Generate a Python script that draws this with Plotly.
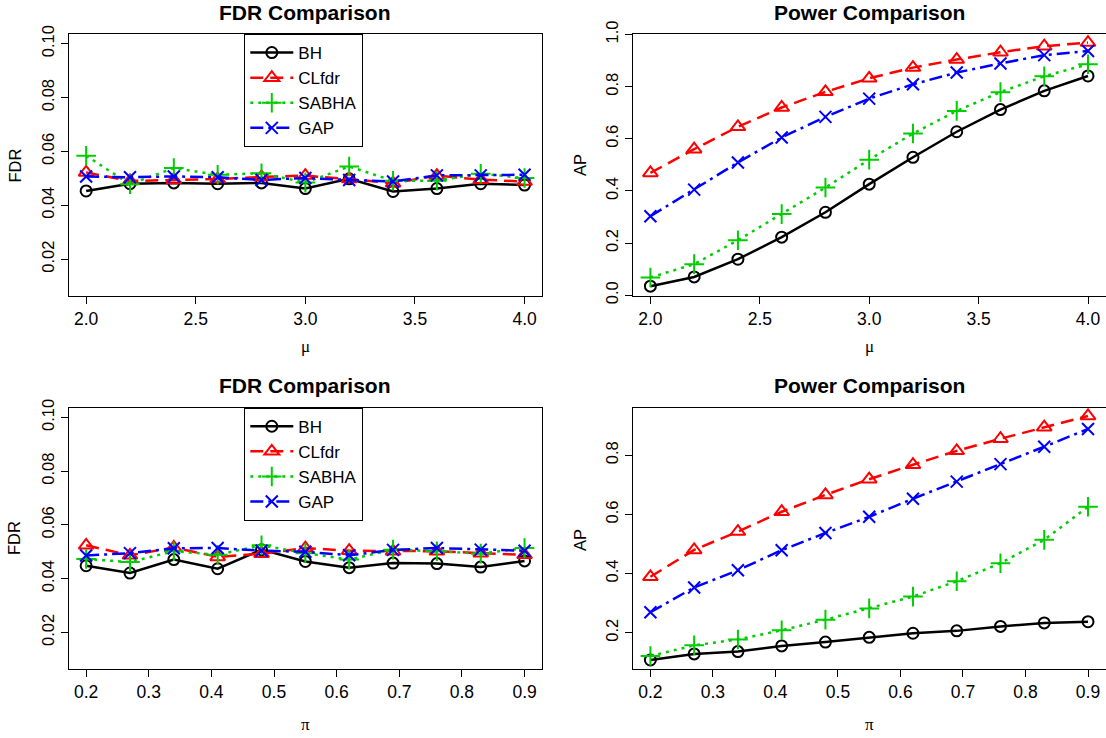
import plotly.graph_objects as go
from plotly.subplots import make_subplots

W, H = 1106, 738

# x values
mu = [2.0, 2.2, 2.4, 2.6, 2.8, 3.0, 3.2, 3.4, 3.6, 3.8, 4.0]
pi_vals = [0.2, 0.27, 0.34, 0.41, 0.48, 0.55, 0.62, 0.69, 0.76, 0.83, 0.9]

# FDR vs mu
fdr_mu_bh = [0.0453, 0.0480, 0.0483, 0.0480, 0.0483, 0.0462, 0.0498, 0.0451, 0.0462, 0.0480, 0.0475]
fdr_mu_clfdr = [0.0522, 0.0490, 0.0494, 0.0497, 0.0505, 0.0510, 0.0497, 0.0482, 0.0510, 0.0495, 0.0488]
fdr_mu_sabha = [0.0584, 0.0478, 0.0538, 0.0513, 0.0519, 0.0484, 0.0544, 0.0491, 0.0491, 0.0517, 0.0501]
fdr_mu_gap = [0.0507, 0.0504, 0.0507, 0.0504, 0.0494, 0.0501, 0.0494, 0.0488, 0.0511, 0.0511, 0.0513]

# AP vs mu
ap_mu_bh = [0.0345, 0.070, 0.138, 0.2225, 0.318, 0.426, 0.529, 0.627, 0.712, 0.784, 0.841]
ap_mu_clfdr = [0.469, 0.560, 0.646, 0.720, 0.780, 0.832, 0.873, 0.904, 0.932, 0.955, 0.969]
ap_mu_sabha = [0.068, 0.119, 0.211, 0.311, 0.413, 0.520, 0.620, 0.707, 0.779, 0.840, 0.886]
ap_mu_gap = [0.303, 0.405, 0.509, 0.605, 0.684, 0.754, 0.809, 0.854, 0.889, 0.921, 0.937]

# FDR vs pi
fdr_pi_bh = [0.0448, 0.0421, 0.0471, 0.0437, 0.0508, 0.0464, 0.0441, 0.0458, 0.0456, 0.0443, 0.0466]
fdr_pi_clfdr = [0.0524, 0.0487, 0.0516, 0.0481, 0.0493, 0.0514, 0.0504, 0.0502, 0.0502, 0.0495, 0.0489]
fdr_pi_sabha = [0.0473, 0.0462, 0.0502, 0.0489, 0.0524, 0.0495, 0.0471, 0.0508, 0.0502, 0.0493, 0.0514]
fdr_pi_gap = [0.0486, 0.0495, 0.0513, 0.0514, 0.0504, 0.0500, 0.0487, 0.0507, 0.0514, 0.0508, 0.0504]

# AP vs pi
ap_pi_bh = [0.1075, 0.128, 0.136, 0.155, 0.168, 0.184, 0.198, 0.206, 0.221, 0.233, 0.237]
ap_pi_clfdr = [0.389, 0.480, 0.542, 0.609, 0.666, 0.719, 0.768, 0.815, 0.856, 0.895, 0.933]
ap_pi_sabha = [0.121, 0.157, 0.177, 0.208, 0.244, 0.282, 0.322, 0.374, 0.435, 0.514, 0.626]
ap_pi_gap = [0.269, 0.353, 0.411, 0.479, 0.537, 0.592, 0.653, 0.711, 0.770, 0.829, 0.889]

methods = ["BH", "CLfdr", "SABHA", "GAP"]
colors = {"BH": "#000000", "CLfdr": "#FF0000", "SABHA": "#00CD00", "GAP": "#0000FF"}
symbols = {"BH": "circle-open", "CLfdr": "triangle-up-open", "SABHA": "cross-thin-open", "GAP": "x-thin-open"}
sizes = {"BH": 11, "CLfdr": 13, "SABHA": 14, "GAP": 12}
dashes = {"BH": "solid", "CLfdr": "13px,7px", "SABHA": "3px,5px", "GAP": "13px,5px,3px,5px"}

panels = [
    (1, 1, mu, [fdr_mu_bh, fdr_mu_clfdr, fdr_mu_sabha, fdr_mu_gap], "legend"),
    (1, 2, mu, [ap_mu_bh, ap_mu_clfdr, ap_mu_sabha, ap_mu_gap], None),
    (2, 1, pi_vals, [fdr_pi_bh, fdr_pi_clfdr, fdr_pi_sabha, fdr_pi_gap], "legend2"),
    (2, 2, pi_vals, [ap_pi_bh, ap_pi_clfdr, ap_pi_sabha, ap_pi_gap], None),
]

FONT = "Liberation Sans, Arial, Helvetica, sans-serif"

fig = make_subplots(rows=2, cols=2)

for r, c, xs, ys, leg in panels:
    for m, y in zip(methods, ys):
        fig.add_trace(go.Scatter(
            x=xs, y=y, name=m, mode="lines+markers",
            line=dict(color=colors[m], width=2.5, dash=dashes[m]),
            marker=dict(symbol=symbols[m], size=sizes[m], color=colors[m],
                        line=dict(color=colors[m], width=2)),
            showlegend=leg is not None,
            legend=leg if leg else "legend",
        ), row=r, col=c)

def px_x(x):
    return x / W

def px_y(y):
    return 1 - y / H

left_dom = [px_x(68.6), px_x(542.1)]
right_dom = [px_x(632.9), px_x(1105.5)]
top_dom = [px_y(295.7), px_y(34)]
bot_dom = [px_y(669), px_y(407.7)]

axis_common = dict(showline=True, linecolor="black", linewidth=1, mirror=True,
                   ticks="outside", ticklen=7, tickwidth=1, tickcolor="black",
                   showgrid=False, zeroline=False, automargin=False)
xfont = dict(tickfont=dict(family=FONT, size=17.5, color="black"))
yfont = dict(tickfont=dict(family=FONT, size=16.5, color="black"), tickangle=-90)

mu_ticks = dict(range=[1.92, 4.08], tickvals=[2.0, 2.5, 3.0, 3.5, 4.0], tickformat=".1f")
pi_ticks = dict(range=[0.172, 0.928], tickvals=[0.2, 0.3, 0.4, 0.5, 0.6, 0.7, 0.8, 0.9], tickformat=".1f")
fdr_ticks = dict(range=[0.0064, 0.1036], tickvals=[0.02, 0.04, 0.06, 0.08, 0.10], tickformat=".2f")

fig.update_layout(
    xaxis=dict(domain=left_dom, **mu_ticks, **axis_common, **xfont),
    yaxis=dict(domain=top_dom, **fdr_ticks, **axis_common, **yfont),
    xaxis2=dict(domain=right_dom, **mu_ticks, **axis_common, **xfont),
    yaxis2=dict(domain=top_dom, range=[-0.002, 1.002], tickvals=[0, 0.2, 0.4, 0.6, 0.8, 1.0], tickformat=".1f", **axis_common, **yfont),
    xaxis3=dict(domain=left_dom, **pi_ticks, **axis_common, **xfont),
    yaxis3=dict(domain=bot_dom, **fdr_ticks, **axis_common, **yfont),
    xaxis4=dict(domain=right_dom, **pi_ticks, **axis_common, **xfont),
    yaxis4=dict(domain=bot_dom, range=[0.077, 0.961], tickvals=[0.2, 0.4, 0.6, 0.8], tickformat=".1f", **axis_common, **yfont),
)

legend_common = dict(xanchor="left", yanchor="top", bordercolor="black", borderwidth=1,
                     bgcolor="white", font=dict(family=FONT, size=17, color="black"),
                     itemwidth=43, tracegroupgap=0)

fig.update_layout(
    width=W, height=H,
    margin=dict(l=0, r=0, t=0, b=0),
    paper_bgcolor="white", plot_bgcolor="white",
    font=dict(family=FONT, size=16, color="black"),
    legend=dict(x=px_x(244.3), y=px_y(34), **legend_common),
    legend2=dict(x=px_x(244.3), y=px_y(407.7), **legend_common),
)

annotations = []
titles = [("FDR Comparison", 305.4, 12.5), ("Power Comparison", 869.3, 12.5),
          ("FDR Comparison", 305.4, 385.7), ("Power Comparison", 869.3, 385.7)]
for text, x, y in titles:
    annotations.append(dict(text="<b>%s</b>" % text, x=px_x(x), y=px_y(y), xref="paper", yref="paper",
                            xanchor="center", yanchor="middle", showarrow=False,
                            font=dict(family=FONT, size=21, color="black")))

ylabels = [("FDR", 14, 165.5), ("AP", 580, 165), ("FDR", 14, 538), ("AP", 580, 540)]
for text, x, y in ylabels:
    annotations.append(dict(text=text, x=px_x(x), y=px_y(y), xref="paper", yref="paper",
                            xanchor="center", yanchor="middle", showarrow=False, textangle=-90,
                            font=dict(family=FONT, size=16.5, color="black")))

xlabels = [("μ", 305.4, 347), ("μ", 869.3, 347), ("π", 305.4, 724), ("π", 869.3, 724)]
for text, x, y in xlabels:
    annotations.append(dict(text=text, x=px_x(x), y=px_y(y), xref="paper", yref="paper",
                            xanchor="center", yanchor="middle", showarrow=False,
                            font=dict(family="Liberation Serif, DejaVu Serif, serif", size=17, color="black")))

fig.update_layout(annotations=annotations)

# the page's default 8px body margin would shift the whole figure
fig.write_html("out.html", config={"displayModeBar": False},
               post_script="document.body.style.margin='0';")
